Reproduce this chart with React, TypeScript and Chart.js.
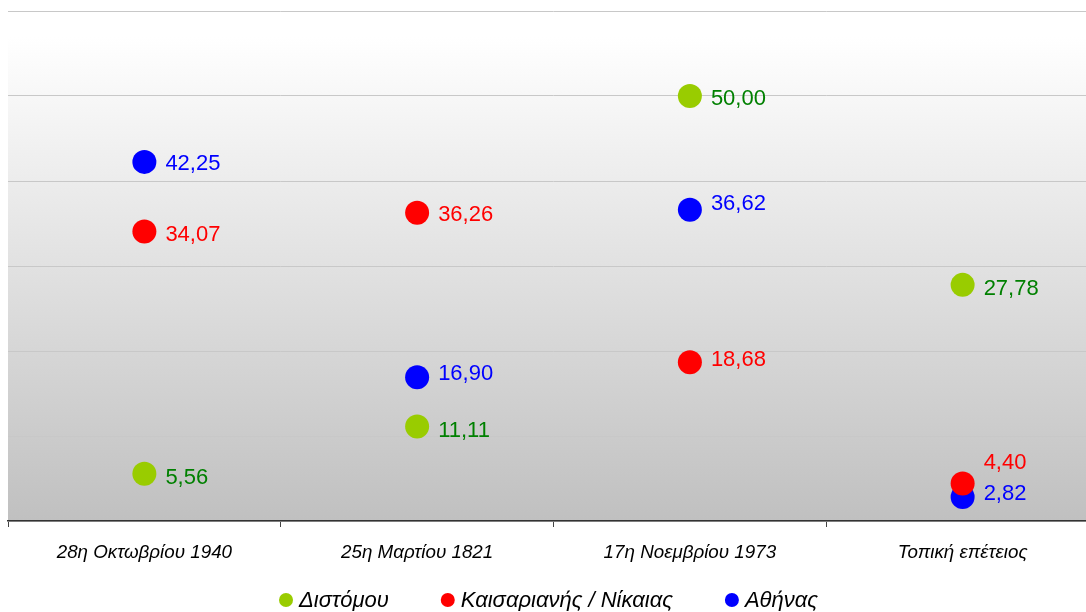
import React, { useEffect, useRef } from "react";
import { Chart, registerables } from "chart.js";

Chart.register(...registerables);

const categories = ["28η Οκτωβρίου 1940", "25η Μαρτίου 1821", "17η Νοεμβρίου 1973", "Τοπική επέτειος"];
const seriesNames = ["Διστόμου", "Καισαριανής / Νίκαιας", "Αθήνας"];
const distomou = [5.56, 11.11, 50.0, 27.78];
const kaisariani = [34.07, 36.26, 18.68, 4.4];
const athina = [42.25, 16.9, 36.62, 2.82];
const yTicks = { min: 0, max: 60, step: 10 };

const pointColors = ["#99cc00", "#ff0000", "#0000ff"];
const labelColors = ["#008000", "#ff0000", "#0000ff"];
const labelDy = [
  [2, 2, 1, 2],
  [2, 0, -4, -23],
  [0, -5, -8, -5],
];
const FONT = "'Liberation Sans', Arial, sans-serif";

const fmt = (v: number) => v.toFixed(2).replace(".", ",");

const bgPlugin = {
  id: "bgGrad",
  beforeDraw(chart: any) {
    const { ctx, chartArea } = chart;
    if (!chartArea) return;
    const g = ctx.createLinearGradient(0, chartArea.top, 0, chartArea.bottom);
    g.addColorStop(0, "#ffffff");
    g.addColorStop(0.05, "#ffffff");
    g.addColorStop(1, "#c0c0c0");
    ctx.save();
    ctx.fillStyle = g;
    ctx.fillRect(chartArea.left, chartArea.top, chartArea.right - chartArea.left, chartArea.bottom - chartArea.top);
    ctx.restore();
  },
};

const labelPlugin = {
  id: "valLabels",
  afterDatasetsDraw(chart: any) {
    const { ctx } = chart;
    ctx.save();
    ctx.font = `22px ${FONT}`;
    ctx.textBaseline = "middle";
    ctx.textAlign = "left";
    chart.data.datasets.forEach((ds: any, di: number) => {
      const meta = chart.getDatasetMeta(di);
      meta.data.forEach((el: any, i: number) => {
        ctx.fillStyle = labelColors[di];
        ctx.fillText(fmt(ds.data[i]), el.x + 21, el.y + 2 + labelDy[di][i]);
      });
    });
    ctx.restore();
  },
};

const legendPlugin = {
  id: "customLegend",
  afterDraw(chart: any) {
    const { ctx } = chart;
    ctx.save();
    ctx.font = `italic 22px ${FONT}`;
    ctx.textBaseline = "middle";
    ctx.textAlign = "left";
    const r = 7;
    const gapText = 6;
    const gapItem = 52;
    const widths = seriesNames.map((n) => 2 * r + gapText + ctx.measureText(n).width);
    const total = widths.reduce((a, b) => a + b, 0) + gapItem * (seriesNames.length - 1);
    // canvas is shifted 4px left and 1px up relative to the page
    let x = 548.5 + 4 - total / 2;
    const y = 601;
    seriesNames.forEach((n, i) => {
      ctx.fillStyle = pointColors[i];
      ctx.beginPath();
      ctx.arc(x + r, y, r, 0, Math.PI * 2);
      ctx.fill();
      ctx.fillStyle = "#000000";
      ctx.fillText(n, x + 2 * r + gapText, y + 1);
      x += widths[i] + gapItem;
    });
    ctx.restore();
  },
};

export default function App() {
  const ref = useRef<HTMLCanvasElement>(null);
  useEffect(() => {
    if (!ref.current) return;
    const data = [distomou, kaisariani, athina];
    const chart = new Chart(ref.current, {
      type: "line",
      data: {
        labels: categories,
        datasets: seriesNames.map((name, i) => ({
          label: name,
          data: data[i],
          showLine: false,
          pointRadius: 12,
          pointHoverRadius: 12,
          pointBorderWidth: 0,
          pointBackgroundColor: pointColors[i],
          pointBorderColor: pointColors[i],
          backgroundColor: pointColors[i],
          borderColor: pointColors[i],
        })),
      },
      options: {
        responsive: false,
        animation: false,
        layout: { padding: { left: 4, top: 10, right: 0, bottom: 0 } },
        plugins: { legend: { display: false }, tooltip: { enabled: false } },
        scales: {
          x: {
            type: "category",
            offset: true,
            grid: {
              display: true,
              offset: true,
              drawOnChartArea: false,
              drawTicks: true,
              tickLength: 6,
              color: "#444444",
            },
            border: { display: true, color: "#333333", width: 1.5 },
            ticks: {
              color: "#000000",
              padding: 14,
              maxRotation: 0,
              font: { family: FONT, size: 18.8, style: "italic" },
            },
            afterFit(scale: any) {
              scale.height = 90;
            },
          },
          y: {
            min: yTicks.min,
            max: yTicks.max,
            ticks: { display: false, stepSize: yTicks.step },
            grid: { color: "#c8c8c8", drawTicks: false, lineWidth: 1 },
            border: { display: false },
            afterFit(scale: any) {
              scale.width = 0;
            },
          },
        },
      },
      plugins: [bgPlugin, labelPlugin, legendPlugin],
    } as any);
    return () => chart.destroy();
  }, []);
  return (
    <div style={{ position: "fixed", left: 0, top: 0, width: 1086, height: 612, overflow: "hidden", background: "#ffffff" }}>
      <canvas ref={ref} width={1115} height={612} style={{ position: "absolute", left: -4, top: -1, width: 1115, height: 612 }} />
    </div>
  );
}
